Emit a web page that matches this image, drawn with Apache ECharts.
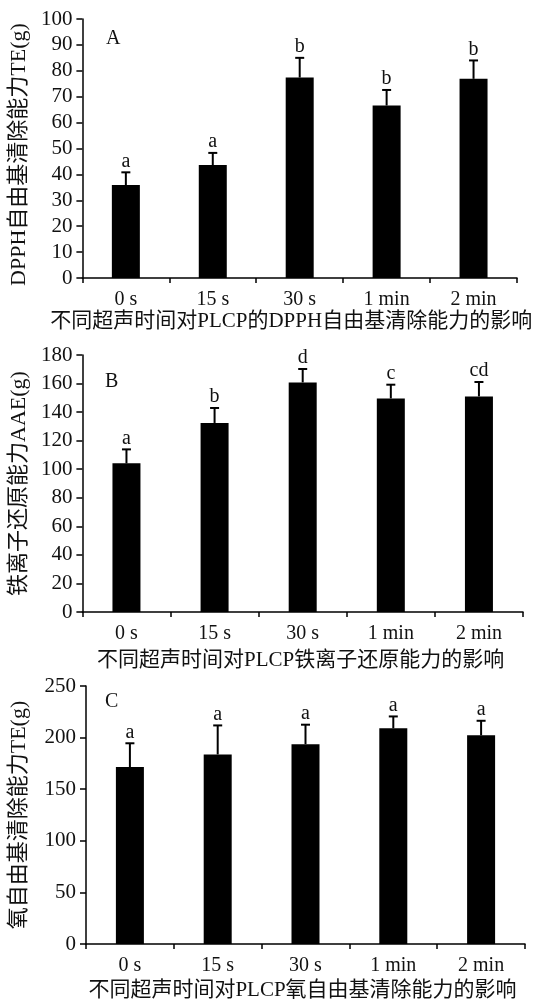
<!DOCTYPE html>
<html>
<head>
<meta charset="utf-8">
<script src="https://cdn.jsdelivr.net/npm/echarts@6/dist/echarts.min.js"></script>
<style>
html,body{margin:0;padding:0;background:#fff;}
#chart{width:539px;height:1002px;}
</style>
</head>
<body>
<div id="chart"></div>
<script>
// ---- data ----
const categories = ['0 s', '15 s', '30 s', '1 min', '2 min'];

const dpphMean = [35.9, 43.6, 77.4, 66.6, 76.9];
const dpphSD = [4.9, 4.7, 7.6, 6.0, 7.1];
const dpphLetters = ['a', 'a', 'b', 'b', 'b'];

const fraMean = [104.1, 132.4, 160.8, 149.6, 151.0];
const fraSD = [9.8, 10.5, 9.4, 9.6, 10.1];
const fraLetters = ['a', 'b', 'd', 'c', 'cd'];

const oxyMean = [171.4, 183.7, 193.6, 209.0, 202.2];
const oxySD = [23.1, 28.1, 18.9, 11.5, 14.1];
const oxyLetters = ['a', 'a', 'a', 'a', 'a'];

const dpphTicks = {min: 0, max: 100, interval: 10};
const fraTicks = {min: 0, max: 180, interval: 20};
const oxyTicks = {min: 0, max: 250, interval: 50};

const panelLabels = ['A', 'B', 'C'];
const yNames = ['DPPH自由基清除能力TE(g)', '铁离子还原能力AAE(g)', '氧自由基清除能力TE(g)'];
const xNames = ['不同超声时间对PLCP的DPPH自由基清除能力的影响', '不同超声时间对PLCP铁离子还原能力的影响', '不同超声时间对PLCP氧自由基清除能力的影响'];

// ---- layout ----
const FONT = '"Liberation Serif", "Times New Roman", "Noto Sans CJK SC", serif';
const panels = [
  {grid: {left: 78, top: 19, right: 22, height: 259}, ticks: dpphTicks, mean: dpphMean, sd: dpphSD, letters: dpphLetters, yGap: 49, yPad: [0, 12, 0, 0], xGap: 31, xPad: [0, 17, 0, 0], lab: [114, 40]},
  {grid: {left: 81, top: 355, right: 16, height: 257}, ticks: fraTicks, mean: fraMean, sd: fraSD, letters: fraLetters, yGap: 52, yPad: [0, 0, 0, 0], xGap: 38, xPad: [0, 4, 0, 0], lab: [113, 383]},
  {grid: {left: 86, top: 686, right: 14, height: 260}, ticks: oxyTicks, mean: oxyMean, sd: oxySD, letters: oxyLetters, yGap: 56, yPad: [0, 0, 0, 0], xGap: 36, xPad: [0, 6, 0, 0], lab: [113, 703]}
];

const axisLine = {show: true, lineStyle: {color: '#000', width: 1.5}};
const grids = [], xAxes = [], yAxes = [], series = [], graphics = [];

panels.forEach((p, i) => {
  grids.push(Object.assign({containLabel: false}, p.grid));
  xAxes.push({
    type: 'category', gridIndex: i, data: categories,
    boundaryGap: true,
    axisLine: axisLine,
    axisTick: {show: true, length: 5, inside: false, alignWithLabel: false, lineStyle: {color: '#000', width: 1.5}},
    axisLabel: {color: '#111', fontFamily: FONT, fontSize: 20, margin: 12},
    splitLine: {show: false},
    name: xNames[i], nameLocation: 'middle', nameGap: p.xGap,
    nameTextStyle: {color: '#111', fontFamily: FONT, fontSize: 21, padding: p.xPad}
  });
  yAxes.push({
    type: 'value', gridIndex: i,
    min: p.ticks.min, max: p.ticks.max, interval: p.ticks.interval,
    axisLine: axisLine,
    axisTick: {show: true, length: 6, inside: false, lineStyle: {color: '#000', width: 1.5}},
    axisLabel: {color: '#111', fontFamily: FONT, fontSize: 21, margin: 10},
    splitLine: {show: false},
    name: yNames[i], nameLocation: 'middle', nameGap: p.yGap, nameRotate: 90,
    nameTextStyle: {color: '#111', fontFamily: FONT, fontSize: 22, padding: p.yPad}
  });
  series.push({
    type: 'bar', xAxisIndex: i, yAxisIndex: i,
    data: p.mean, barWidth: 28,
    itemStyle: {color: '#000'},
    silent: true, animation: false
  });
  const letters = p.letters;
  series.push({
    type: 'custom', xAxisIndex: i, yAxisIndex: i,
    data: p.mean.map((m, k) => [k, m, p.sd[k]]),
    z: 5, animation: false, silent: true,
    renderItem: function (params, api) {
      const base = api.coord([api.value(0), api.value(1)]);
      const top = api.coord([api.value(0), api.value(1) + api.value(2)]);
      return {
        type: 'group',
        children: [
          {type: 'line', shape: {x1: base[0], y1: base[1], x2: top[0], y2: top[1]}, style: {stroke: '#000', lineWidth: 2}},
          {type: 'line', shape: {x1: top[0] - 4.5, y1: top[1], x2: top[0] + 4.5, y2: top[1]}, style: {stroke: '#000', lineWidth: 2}},
          {type: 'text', x: top[0], y: top[1] - 1, style: {text: letters[params.dataIndex], align: 'center', verticalAlign: 'bottom', font: '20px ' + FONT, fill: '#111'}}
        ]
      };
    }
  });
  graphics.push({
    type: 'text', left: p.lab[0] - 8, top: p.lab[1] - 11,
    style: {text: panelLabels[i], font: '20px ' + FONT, fill: '#111'}
  });
});

const chart = echarts.init(document.getElementById('chart'), null, {renderer: 'canvas'});
chart.setOption({
  backgroundColor: '#fff',
  animation: false,
  grid: grids,
  xAxis: xAxes,
  yAxis: yAxes,
  series: series,
  graphic: graphics
});
</script>
</body>
</html>
